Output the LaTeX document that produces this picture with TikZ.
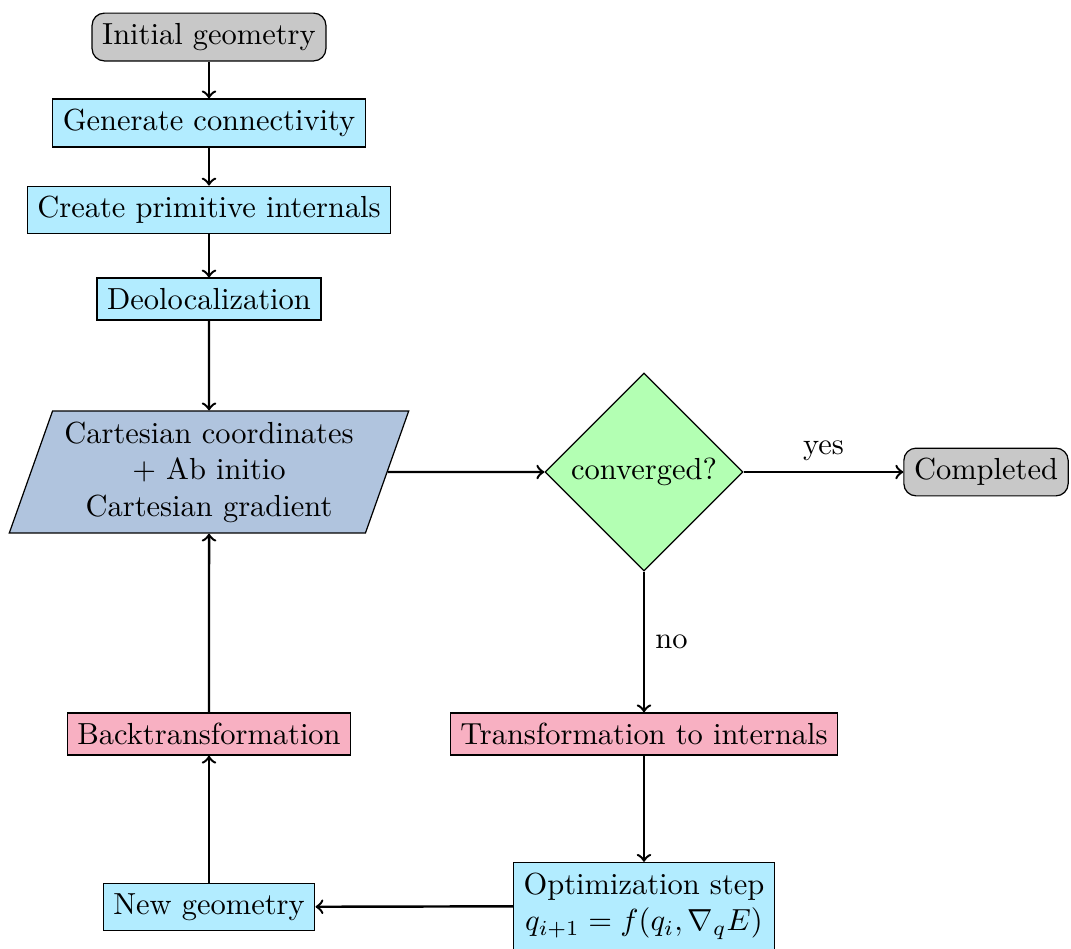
\documentclass[tikz,border=0pt]{standalone}
\usetikzlibrary{shapes.geometric}
\definecolor{boxblue}{RGB}{178,236,255}
\definecolor{boxpink}{RGB}{248,176,194}
\definecolor{boxgreen}{RGB}{179,255,179}
\definecolor{boxgray}{RGB}{200,200,200}
\definecolor{paraBlue}{RGB}{176,196,222}
\tikzset{
  procbox/.style={draw, fill=boxblue, align=center},
  transbox/.style={draw, fill=boxpink, align=center},
  termbox/.style={draw, fill=boxgray, rounded corners=4pt},
  decbox/.style={draw, fill=boxgreen, diamond, aspect=1, inner sep=0pt, minimum width=65pt, minimum height=65pt},
  iobox/.style={draw, fill=paraBlue, trapezium, trapezium left angle=68, trapezium right angle=112, trapezium stretches body, align=center, minimum width=131pt, minimum height=40pt, inner sep=1pt},
  conn/.style={->, thick},
}
\begin{document}
\begin{tikzpicture}[x=0.328pt, y=-0.328pt]
\path[use as bounding box] (0,0) rectangle (1071,948);
\node[termbox] (init) at (209,37) {Initial geometry};
\node[procbox] (gen) at (209,123) {Generate connectivity};
\node[procbox] (cpi) at (209,210) {Create primitive internals};
\node[procbox] (deol) at (209,299) {Deolocalization};
\node[iobox] (cart) at (209,472) {Cartesian coordinates\\+ Ab initio\\Cartesian gradient};
\node[decbox] (conv) at (644,472) {converged?};
\node[termbox] (done) at (986,472) {Completed};
\node[transbox] (trans) at (644,734) {Transformation to internals};
\node[procbox] (opt) at (644,906) {Optimization step\\$q_{i+1} = f(q_i, \nabla_q E)$};
\node[procbox] (newg) at (209,907) {New geometry};
\node[transbox] (back) at (209,734) {Backtransformation};
\draw[conn] (init) -- (gen);
\draw[conn] (gen) -- (cpi);
\draw[conn] (cpi) -- (deol);
\draw[conn] (deol) -- (cart);
\draw[conn] (cart) -- (conv);
\draw[conn] (conv) -- node[above] {yes} (done);
\draw[conn] (conv) -- node[right] {no} (trans);
\draw[conn] (trans) -- (opt);
\draw[conn] (opt) -- (newg);
\draw[conn] (newg) -- (back);
\draw[conn] (back) -- (cart);
\end{tikzpicture}
\end{document}
